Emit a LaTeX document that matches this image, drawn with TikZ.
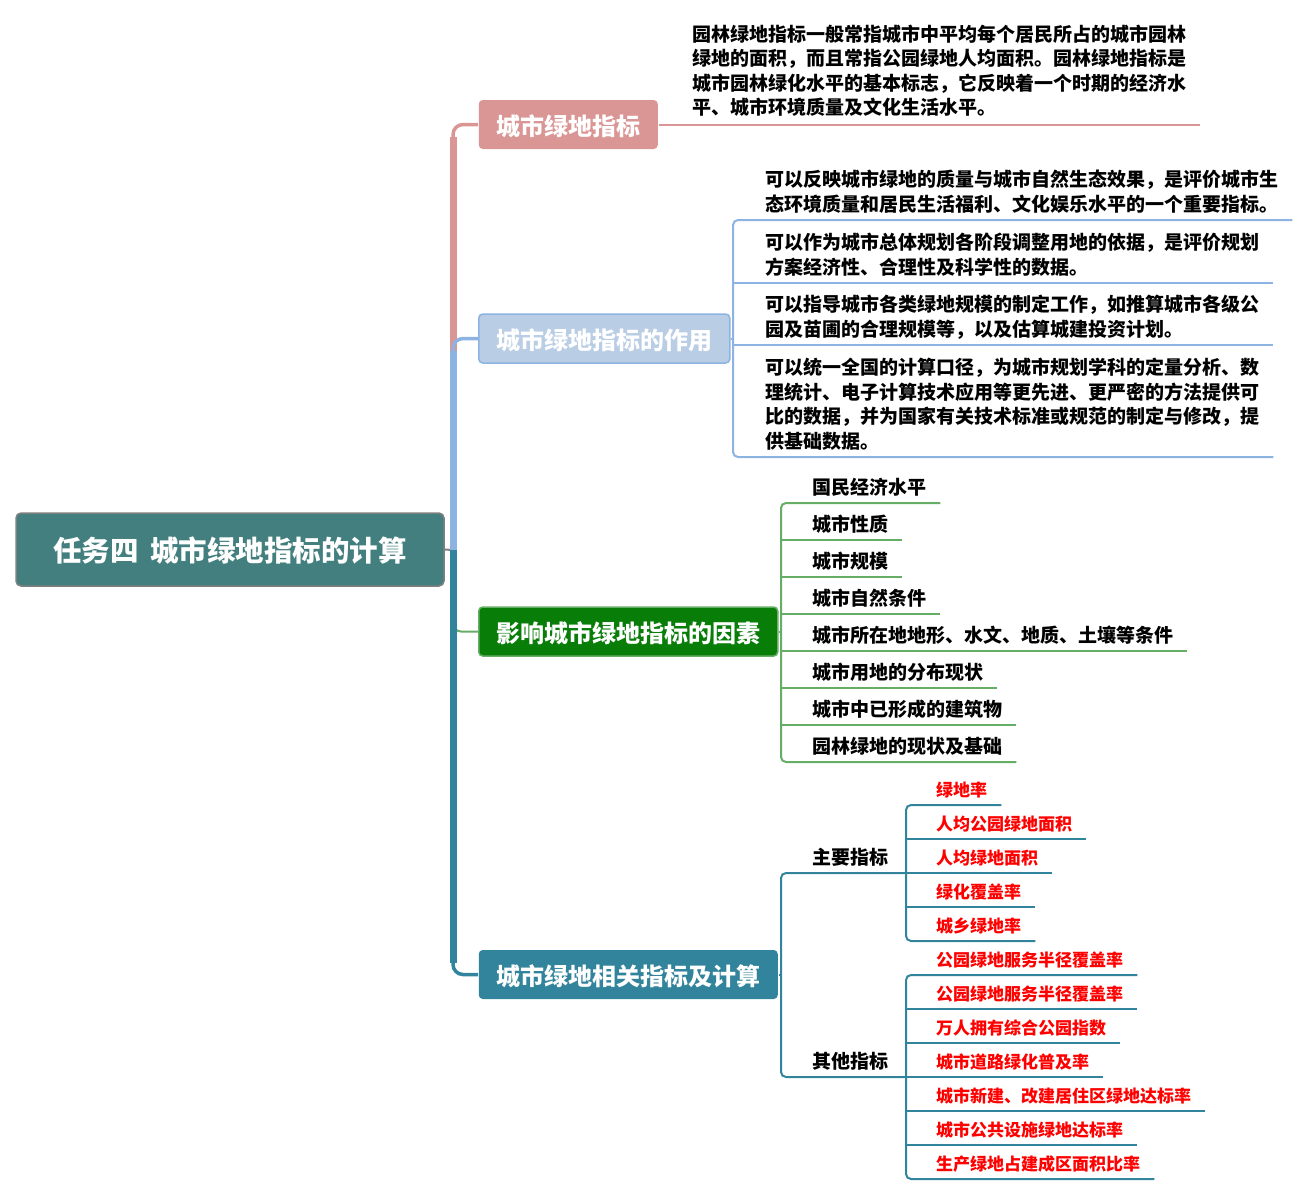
\documentclass[tikz,border=0pt]{standalone}
\usepackage{fontspec}
\setmainfont{Noto Sans CJK SC}
\usepackage{tikz}
\usetikzlibrary{positioning}
\definecolor{rootfill}{HTML}{427F7E}
\definecolor{rootedge}{HTML}{7F7F7F}
\definecolor{pinkc}{HTML}{DA9694}
\definecolor{bluefill}{HTML}{B9CDE5}
\definecolor{bluec}{HTML}{8DB3E2}
\definecolor{greenfill}{HTML}{087D08}
\definecolor{greenc}{HTML}{66AD66}
\definecolor{tealc}{HTML}{31849B}
\newcommand{\fs}[1]{\fontsize{#1}{24.5}\selectfont\bfseries}

\begin{document}
\begin{tikzpicture}[x=1pt, y=-1pt,
  root/.style={rectangle, draw=rootedge, fill=rootfill, rounded corners=5pt, line width=1.5pt,
               minimum width=428pt, minimum height=73pt, text=white, font=\fs{28.5},
               text height=24.7pt, text depth=0pt},
  topic/.style={rectangle, rounded corners=4pt, minimum height=49pt, inner xsep=17.5pt,
                anchor=west, text=white, font=\fs{24}, line width=1.5pt,
                text height=21.2pt, text depth=0pt},
  leaf/.style={anchor=south west, align=left, inner xsep=14pt, inner ysep=8.8pt,
               text depth=0pt, font=\fs{19}},
  sub/.style={leaf, inner xsep=18pt},
  redleaf/.style={leaf, inner ysep=8.5pt, text=red, font=\fs{17}},
  branch/.style={line width=7pt},
  link/.style={line width=2pt, rounded corners=5pt}]

  \useasboundingbox (0,0) rectangle (1308,1195);

  \node[root] (root) at (230,549.5) {任务四\hspace{0.4em}城市绿地指标的计算};
  \coordinate (hub) at (453,550);

  \node[topic, fill=pinkc] (idx) at (478,124.5) {城市绿地指标};
  \node[topic, fill=bluefill, draw=bluec] (role) at (478,338.5) {城市绿地指标的作用};
  \node[topic, fill=greenfill, draw=greenc] (fact) at (478,631.5) {影响城市绿地指标的因素};
  \node[topic, fill=tealc] (calc) at (478,974.5) {城市绿地相关指标及计算};

  \draw[rootedge, line width=2pt] (root.east) -- (hub);
  \draw[pinkc, line width=3.5pt, rounded corners=10pt] (hub) |- (idx.west);
  \draw[pinkc, branch] (hub) -- ([yshift=-12pt]hub |- idx.west);
  \draw[bluec, line width=3.5pt, rounded corners=10pt] (hub) |- (role.west);
  \draw[bluec, branch] (hub) -- ([yshift=-12pt]hub |- role.west);
  \draw[greenc, line width=2pt, rounded corners=8pt] (hub) |- (fact.west);
  \draw[tealc, line width=3.5pt, rounded corners=10pt] (hub) |- (calc.west);
  \draw[tealc, branch] (hub) -- ([yshift=12pt]hub |- calc.west);

  \node[leaf, inner ysep=9.8pt] (idxnote) at (678,124.5)
    {园林绿地指标一般常指城市中平均每个居民所占的城市园林\\绿地的面积，而且常指公园绿地人均面积。园林绿地指标是\\城市园林绿化水平的基本标志，它反映着一个时期的经济水\\平、城市环境质量及文化生活水平。};
  \draw[pinkc, line width=2pt] (idx.east) -- (idxnote.south east);

  \coordinate (rolespine) at (733,338.5);
  \node[leaf] (role1) at (751,220)
    {可以反映城市绿地的质量与城市自然生态效果，是评价城市生\\态环境质量和居民生活福利、文化娱乐水平的一个重要指标。};
  \node[leaf] (role2) at (751,283)
    {可以作为城市总体规划各阶段调整用地的依据，是评价规划\\方案经济性、合理性及科学性的数据。};
  \node[leaf] (role3) at (751,345)
    {可以指导城市各类绿地规模的制定工作，如推算城市各级公\\园及苗圃的合理规模等，以及估算城建投资计划。};
  \node[leaf] (role4) at (751,457)
    {可以统一全国的计算口径，为城市规划学科的定量分析、数\\理统计、电子计算技术应用等更先进、更严密的方法提供可\\比的数据，并为国家有关技术标准或规范的制定与修改，提\\供基础数据。};
  \draw[bluec, link] (role.east) -- (rolespine);
  \draw[bluec, link] (role1.south east) -- (rolespine |- role1.south) -- (rolespine |- role4.south) -- (role4.south east);
  \draw[bluec, link] (rolespine |- role2.south) -- (role2.south east);
  \draw[bluec, link] (rolespine |- role3.south) -- (role3.south east);

  \coordinate (factspine) at (781,631.5);
  \node[leaf] (fact1) at (798,503) {国民经济水平};
  \node[leaf] (fact2) at (798,540) {城市性质};
  \node[leaf] (fact3) at (798,577) {城市规模};
  \node[leaf] (fact4) at (798,614) {城市自然条件};
  \node[leaf] (fact5) at (798,651) {城市所在地地形、水文、地质、土壤等条件};
  \node[leaf] (fact6) at (798,688) {城市用地的分布现状};
  \node[leaf] (fact7) at (798,725) {城市中已形成的建筑物};
  \node[leaf] (fact8) at (798,762) {园林绿地的现状及基础};
  \draw[greenc, link] (fact.east) -- (factspine);
  \draw[greenc, link] (fact1.south east) -- (factspine |- fact1.south) -- (factspine |- fact8.south) -- (fact8.south east);
  \draw[greenc, link] (factspine |- fact2.south) -- (fact2.south east);
  \draw[greenc, link] (factspine |- fact3.south) -- (fact3.south east);
  \draw[greenc, link] (factspine |- fact4.south) -- (fact4.south east);
  \draw[greenc, link] (factspine |- fact5.south) -- (fact5.south east);
  \draw[greenc, link] (factspine |- fact6.south) -- (fact6.south east);
  \draw[greenc, link] (factspine |- fact7.south) -- (fact7.south east);

  \coordinate (calcspine) at (781,974.5);
  \node[sub] (mainidx) at (794,873) {主要指标};
  \node[sub] (otheridx) at (794,1077) {其他指标};
  \draw[tealc, link] (calc.east) -- (calcspine);
  \draw[tealc, link] (mainidx.south east) -- (calcspine |- mainidx.south) -- (calcspine |- otheridx.south) -- (otheridx.south east);

  \coordinate (mainspine) at (906,873);
  \node[redleaf] (main1) at (922,805) {绿地率};
  \node[redleaf] (main2) at (922,839) {人均公园绿地面积};
  \node[redleaf] (main3) at (922,873) {人均绿地面积};
  \node[redleaf] (main4) at (922,907) {绿化覆盖率};
  \node[redleaf] (main5) at (922,941) {城乡绿地率};
  \draw[tealc, link] (main1.south east) -- (mainspine |- main1.south) -- (mainspine |- main5.south) -- (main5.south east);
  \draw[tealc, link] (mainspine |- main2.south) -- (main2.south east);
  \draw[tealc, link] (mainspine |- main3.south) -- (main3.south east);
  \draw[tealc, link] (mainspine |- main4.south) -- (main4.south east);

  \coordinate (otherspine) at (906,1077);
  \node[redleaf] (other1) at (922,975) {公园绿地服务半径覆盖率};
  \node[redleaf] (other2) at (922,1009) {公园绿地服务半径覆盖率};
  \node[redleaf] (other3) at (922,1043) {万人拥有综合公园指数};
  \node[redleaf] (other4) at (922,1077) {城市道路绿化普及率};
  \node[redleaf] (other5) at (922,1111) {城市新建、改建居住区绿地达标率};
  \node[redleaf] (other6) at (922,1145) {城市公共设施绿地达标率};
  \node[redleaf] (other7) at (922,1179) {生产绿地占建成区面积比率};
  \draw[tealc, link] (other1.south east) -- (otherspine |- other1.south) -- (otherspine |- other7.south) -- (other7.south east);
  \draw[tealc, link] (otherspine |- other2.south) -- (other2.south east);
  \draw[tealc, link] (otherspine |- other3.south) -- (other3.south east);
  \draw[tealc, link] (otherspine |- other4.south) -- (other4.south east);
  \draw[tealc, link] (otherspine |- other5.south) -- (other5.south east);
  \draw[tealc, link] (otherspine |- other6.south) -- (other6.south east);
\end{tikzpicture}
\end{document}
